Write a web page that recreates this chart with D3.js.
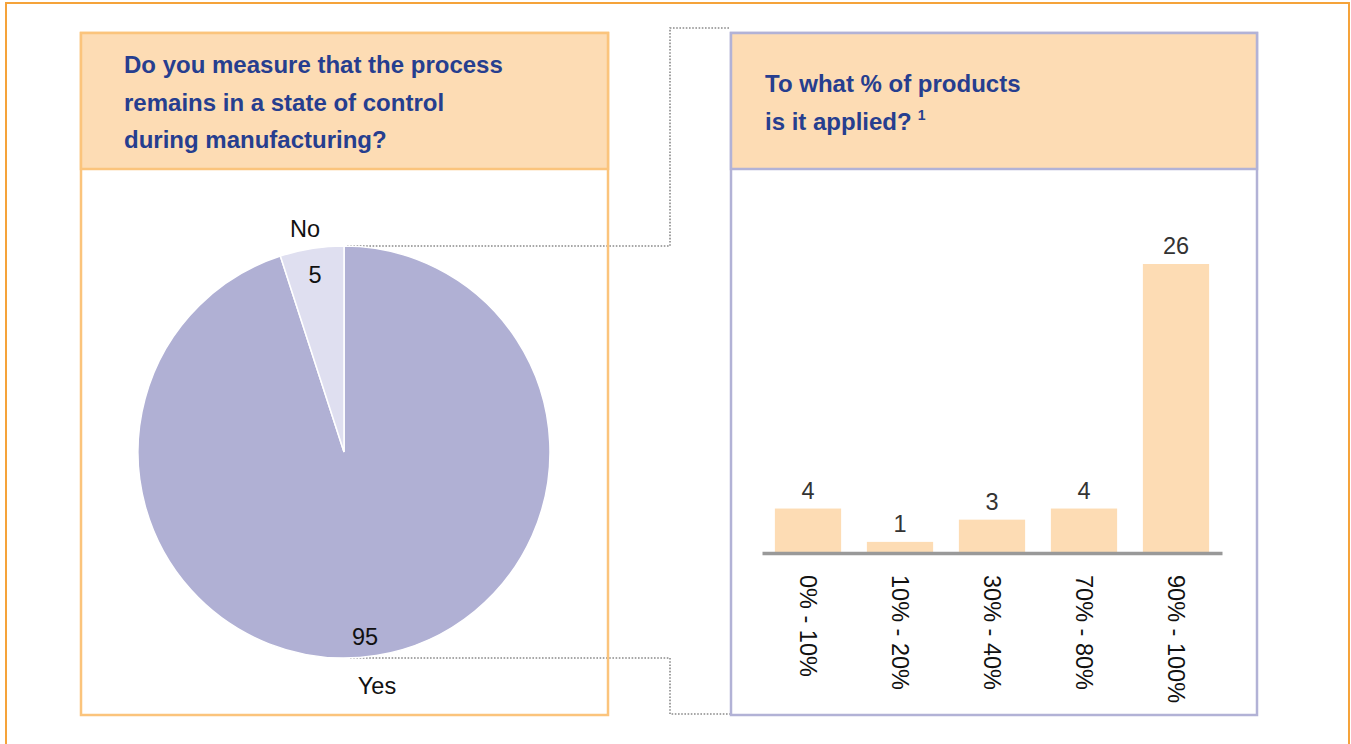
<!DOCTYPE html>
<html>
<head>
<meta charset="utf-8">
<script src="https://cdn.jsdelivr.net/npm/d3@7/dist/d3.min.js"></script>
<style>
  html, body { margin: 0; padding: 0; background: #fff; }
  svg { display: block; font-family: "Liberation Sans", Arial, sans-serif; }
</style>
</head>
<body>
<svg id="chart" width="1351" height="744"></svg>
<script>
// Survey answers: process control measured (pie)
const pieCategories = ["Yes", "No"];
const pieValues = [95, 5];

// Share of products the control is applied to (bars)
const barCategories = ["0% - 10%", "10% - 20%", "30% - 40%", "70% - 80%", "90% - 100%"];
const barValues = [4, 1, 3, 4, 26];

const leftTitle = ["Do you measure that the process", "remains in a state of control", "during manufacturing?"];
const rightTitle = ["To what % of products", "is it applied?"];

const svg = d3.select("#chart");
const navy = "#263e8f";
const peach = "#fddcb4";

// Outer frame
svg.append("rect").attr("x", 6).attr("y", 3).attr("width", 1343).attr("height", 760)
  .attr("fill", "none").attr("stroke", "#f5a33a").attr("stroke-width", 2);

// Dotted connectors between the pie and the bar panel
const dotted = { fill: "none", stroke: "#8a8a8a", "stroke-width": 1.6, "stroke-dasharray": "1.6,1.6" };
function dottedPath(pts) {
  const p = svg.append("path").attr("d", d3.line()(pts));
  Object.entries(dotted).forEach(([k, v]) => p.attr(k, v));
}
dottedPath([[347, 246], [670, 246], [670, 28], [730, 28]]);
dottedPath([[350, 658], [670, 658], [670, 714], [730, 714]]);

// Panels
function panel(x, y, w, h, headerH, stroke) {
  svg.append("rect").attr("x", x).attr("y", y).attr("width", w).attr("height", h)
    .attr("fill", "none").attr("stroke", stroke).attr("stroke-width", 2.5);
  svg.append("rect").attr("x", x).attr("y", y).attr("width", w).attr("height", headerH)
    .attr("fill", peach).attr("stroke", stroke).attr("stroke-width", 2.5);
}
panel(81, 33, 527, 682, 136, "#fbc47c");
panel(731, 33, 526, 682, 136, "#b2b2d6");

// Header titles
const titleSize = 24;
svg.append("g").selectAll("text").data(leftTitle).join("text")
  .attr("x", 124).attr("y", (d, i) => 73 + i * 37.5)
  .attr("fill", navy).attr("font-size", titleSize).attr("font-weight", "bold")
  .text(d => d);

const rt = svg.append("g").selectAll("text").data(rightTitle).join("text")
  .attr("x", 765).attr("y", (d, i) => 92 + i * 37.5)
  .attr("fill", navy).attr("font-size", titleSize).attr("font-weight", "bold")
  .text(d => d);
rt.filter((d, i) => i === 1).append("tspan")
  .attr("dx", 6).attr("dy", -10).attr("font-size", 14).text("1");

// Pie
const cx = 344, cy = 452, r = 206;
const pie = d3.pie().sort(null).value(d => d.v)(pieCategories.map((c, i) => ({ c, v: pieValues[i] })));
const arc = d3.arc().innerRadius(0).outerRadius(r);
const pieColor = d3.scaleOrdinal().domain(pieCategories).range(["#b0b0d4", "#dfdff0"]);
const pg = svg.append("g").attr("transform", `translate(${cx},${cy})`);
pg.selectAll("path").data(pie).join("path")
  .attr("d", arc).attr("fill", d => pieColor(d.data.c))
  .attr("stroke", "#fff").attr("stroke-width", 1.5);

// Pie labels: value inside near the rim, category outside
const labelSize = 23.5;
const valuePos = { Yes: [365, 645], No: [315, 283] };
const namePos = { Yes: [377, 694], No: [305, 237] };
pie.forEach(d => {
  const c = d.data.c;
  svg.append("text").attr("x", valuePos[c][0]).attr("y", valuePos[c][1])
    .attr("text-anchor", "middle").attr("font-size", labelSize).attr("fill", "#111")
    .text(d.data.v);
  svg.append("text").attr("x", namePos[c][0]).attr("y", namePos[c][1])
    .attr("text-anchor", "middle").attr("font-size", labelSize).attr("fill", "#111")
    .text(c);
});

// Bars
const x = d3.scaleBand().domain(barCategories).range([762, 1222]).paddingInner(0.28).paddingOuter(0.14);
const y = d3.scaleLinear().domain([0, 26]).range([553, 264]);

svg.append("g").selectAll("rect").data(barCategories).join("rect")
  .attr("x", d => x(d)).attr("width", x.bandwidth())
  .attr("y", (d, i) => y(barValues[i])).attr("height", (d, i) => y(0) - y(barValues[i]))
  .attr("fill", peach);

svg.append("g").selectAll("text").data(barCategories).join("text")
  .attr("x", d => x(d) + x.bandwidth() / 2)
  .attr("y", (d, i) => y(barValues[i]) - 10)
  .attr("text-anchor", "middle").attr("font-size", labelSize).attr("fill", "#333")
  .text((d, i) => barValues[i]);

// Category axis with rotated labels
const axis = svg.append("g").attr("transform", `translate(0,${y(0)})`)
  .call(d3.axisBottom(x).tickSize(0).tickPadding(0));
axis.select(".domain").attr("stroke", "#999").attr("stroke-width", 3.5);
axis.selectAll(".tick text")
  .attr("font-size", labelSize).attr("fill", "#111").attr("font-family", "Liberation Sans, Arial, sans-serif")
  .attr("text-anchor", "start").attr("dy", "0.35em")
  .attr("transform", "translate(0,22) rotate(90)");
</script>
</body>
</html>
